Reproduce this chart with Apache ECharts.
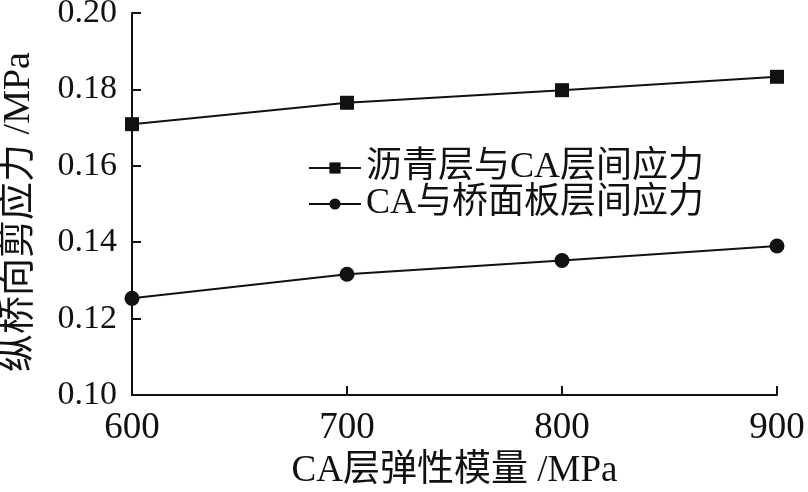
<!DOCTYPE html>
<html>
<head>
<meta charset="utf-8">
<script src="https://cdn.jsdelivr.net/npm/echarts@6/dist/echarts.min.js"></script>
<style>
  html, body { margin: 0; padding: 0; background: #fff; }
  #chart { width: 808px; height: 492px; }
</style>
</head>
<body>
<div id="chart"></div>
<script>
// 横坐标：CA层弹性模量 (MPa)
const modulus = [600, 700, 800, 900];
// 沥青层与CA层间应力 (MPa)
const asphaltCA = [0.1709, 0.1765, 0.1798, 0.1833];
// CA与桥面板层间应力 (MPa)
const caDeck = [0.1253, 0.1316, 0.1352, 0.1390];

const FONT = "'Times New Roman', 'Liberation Serif', 'Noto Sans CJK SC', serif";

const chart = echarts.init(document.getElementById('chart'));

const axisCommon = {
  axisLine: { show: true, lineStyle: { color: '#111', width: 2 } },
  axisTick: { show: true, inside: true, length: 9, lineStyle: { color: '#111', width: 2 } },
  splitLine: { show: false }
};

chart.setOption({
  animation: false,
  backgroundColor: '#fff',
  grid: { left: 132, right: 31, top: 13, bottom: 97, outerBoundsMode: 'none', containLabel: false },
  legend: {
    orient: 'vertical',
    left: 303,
    top: 145,
    itemWidth: 52,
    itemHeight: 14,
    itemGap: 0,
    textStyle: { color: '#111', fontFamily: FONT, fontSize: 36, lineHeight: 35 },
    data: ['沥青层与CA层间应力', 'CA与桥面板层间应力']
  },
  xAxis: {
    ...axisCommon,
    type: 'value',
    min: 600,
    max: 900,
    interval: 100,
    name: 'CA层弹性模量 /MPa',
    nameLocation: 'middle',
    nameGap: 58,
    nameTextStyle: { color: '#111', fontFamily: FONT, fontSize: 37 },
    axisLabel: { color: '#111', fontFamily: FONT, fontSize: 37, margin: 15 }
  },
  yAxis: {
    ...axisCommon,
    type: 'value',
    min: 0.10,
    max: 0.20,
    interval: 0.02,
    name: '纵桥向剪应力 /MPa',
    nameLocation: 'middle',
    nameGap: 94,
    nameTextStyle: { color: '#111', fontFamily: FONT, fontSize: 38, padding: [0, 16, 0, 0] },
    axisLabel: {
      color: '#111', fontFamily: FONT, fontSize: 34, margin: 15,
      padding: [4, 0, 0, 0],
      formatter: v => v.toFixed(2)
    }
  },
  series: [
    {
      name: '沥青层与CA层间应力',
      type: 'line',
      data: modulus.map((x, i) => [x, asphaltCA[i]]),
      symbol: 'rect',
      symbolSize: 14,
      lineStyle: { color: '#111', width: 2 },
      itemStyle: { color: '#111' }
    },
    {
      name: 'CA与桥面板层间应力',
      type: 'line',
      data: modulus.map((x, i) => [x, caDeck[i]]),
      symbol: 'circle',
      symbolSize: 15,
      lineStyle: { color: '#111', width: 2 },
      itemStyle: { color: '#111' }
    }
  ]
});
</script>
</body>
</html>
